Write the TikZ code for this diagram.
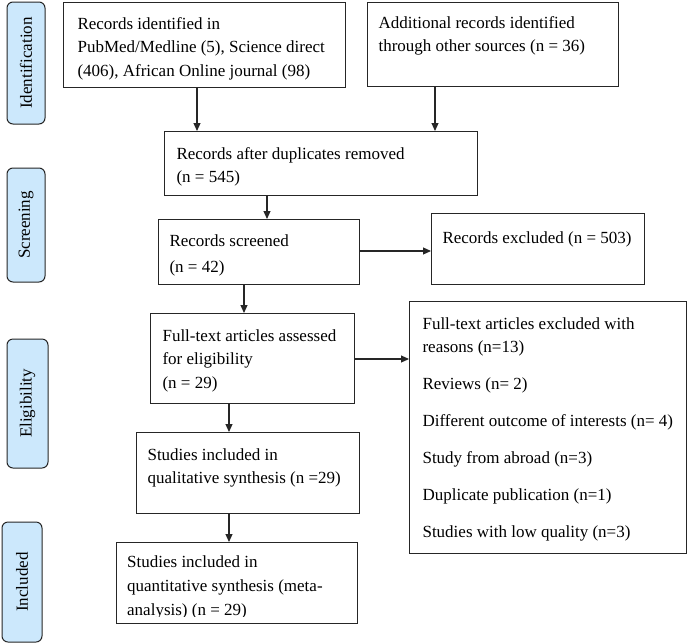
\documentclass[tikz,border=0pt]{standalone}
\usepackage{fontspec}
\setmainfont{Liberation Serif}
\usetikzlibrary{arrows.meta}
\definecolor{labfill}{HTML}{CCE8FC}
\definecolor{edge}{HTML}{262626}
\newcommand{\fs}{\fontsize{17}{23.5}\selectfont}
% #1 width, #2 height, #3 left padding, #4 first baseline from top, #5 text
\newcommand{\bt}[5]{\hspace*{#3}\parbox[c][#2][t]{\dimexpr#1-#3\relax}{\raggedright\vspace*{\dimexpr#4-\ht\strutbox\relax}\strut #5}}
\begin{document}
\begin{tikzpicture}[x=1pt,y=-1pt,
  box/.style={draw=edge, line width=1.1pt, inner sep=0pt, anchor=north west, font=\fs},
  txt/.style={inner sep=0pt, anchor=north west, font=\fs},
  lab/.style={draw=edge, line width=1pt, fill=labfill, rounded corners=6pt, rotate=90, inner sep=0pt, font=\fs},
  arr/.style={draw=edge, line width=1.1pt, -{Triangle[length=8pt,width=7pt]}}]
\useasboundingbox (0,0) rectangle (687,643);

% stage labels
\node[lab, minimum width=122pt, minimum height=38pt] (l1) at (26,63) {Identification};
\node[lab, minimum width=114pt, minimum height=38pt] (l2) at (26,225) {Screening};
\node[lab, minimum width=129pt, minimum height=41pt] (l3) at (27.5,403.5) {Eligibility};
\node[lab, minimum width=120pt, minimum height=40pt] (l4) at (22,582) {Included};

% boxes
\node[box] (b1) at (63,1.5) {\bt{282pt}{85.5pt}{14pt}{27pt}{Records identified in\\PubMed/Medline (5), Science direct\\(406), African Online journal (98)}};
\node[box] (b2) at (367,1.5) {\bt{251pt}{84.5pt}{11pt}{26pt}{Additional records identified\\through other sources (n = 36)}};
\node[box] (b3) at (164,131) {\bt{313pt}{64pt}{12pt}{27.5pt}{Records after duplicates removed\\(n = 545)}};
\node[box] (b4) at (158,219) {\bt{201pt}{65pt}{11pt}{26.5pt}{Records screened\\[2.5pt](n = 42)}};
\node[box] (b5) at (431,213) {\bt{213pt}{71pt}{11pt}{29.5pt}{Records excluded (n = 503)}};
\node[box] (b6) at (150,313) {\bt{204pt}{90pt}{12pt}{27.5pt}{Full-text articles assessed\\for eligibility\\(n = 29)}};
\node[box] (b7) at (409,301) {\bt{277pt}{252pt}{13pt}{27.5pt}{Full-text articles excluded with\\[-0.5pt]reasons (n=13)\\[13.5pt]Reviews (n= 2)\\[13.5pt]Different outcome of interests (n= 4)\\[13.5pt]Study from abroad (n=3)\\[13.5pt]Duplicate publication (n=1)\\[13.5pt]Studies with low quality (n=3)}};
\node[box] (b8) at (136,432) {\bt{223pt}{81pt}{11pt}{27.5pt}{Studies included in\\qualitative synthesis (n =29)}};
\node[box, minimum width=241pt, minimum height=81pt] (b9) at (116,542) {};
\begin{scope}
  \clip (116,542) rectangle (357,616.8);
  \node[txt] (b9t) at (b9.north west) {\bt{241pt}{81pt}{11pt}{25.5pt}{Studies included in\\[0.5pt]quantitative synthesis (meta-\\[0.5pt]analysis) (n = 29)}};
\end{scope}

% connectors
\coordinate (x1) at (197,0);
\coordinate (x2) at (435,0);
\coordinate (x3) at (267,0);
\coordinate (x4) at (244,0);
\coordinate (x5) at (229,0);
\coordinate (y1) at (0,251);
\coordinate (y2) at (0,359);
\draw[arr] (b1.south -| x1) -- (b3.north -| x1);
\draw[arr] (b2.south -| x2) -- (b3.north -| x2);
\draw[arr] (b3.south -| x3) -- (b4.north -| x3);
\draw[arr] (b4.east |- y1) -- (b5.west |- y1);
\draw[arr] (b4.south -| x4) -- (b6.north -| x4);
\draw[arr] (b6.east |- y2) -- (b7.west |- y2);
\draw[arr] (b6.south -| x5) -- (b8.north -| x5);
\draw[arr] (b8.south -| x5) -- (b9.north -| x5);
\end{tikzpicture}
\end{document}
